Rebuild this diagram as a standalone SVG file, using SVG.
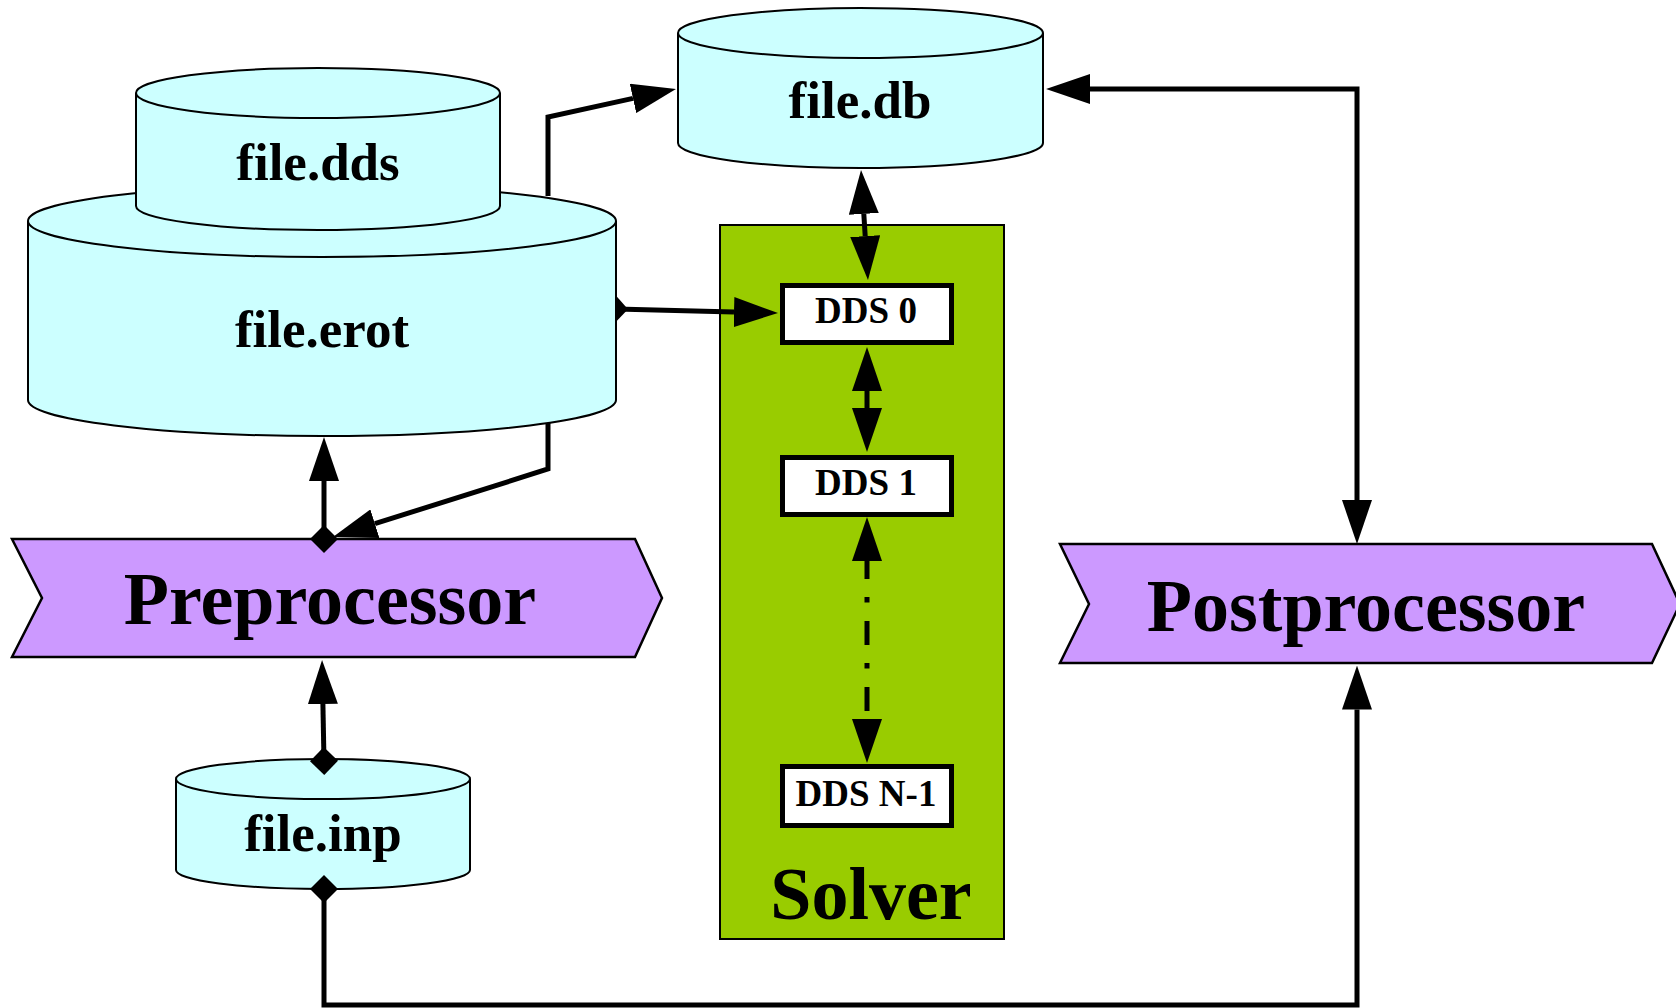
<svg xmlns="http://www.w3.org/2000/svg" width="1676" height="1008" viewBox="0 0 1676 1008">
<style>
.cyl{fill:#ccffff;stroke:#000;stroke-width:2}
.arrowshape{fill:#cc99ff;stroke:#000;stroke-width:2.5}
.lbl{font-family:"Liberation Serif","Times New Roman",serif;font-weight:bold;text-anchor:middle;fill:#000}
.f53{font-size:53px}
.f74{font-size:74px}
.f37{font-size:37px}
.dds{fill:#fff;stroke:#000;stroke-width:5}
.conn{fill:none;stroke:#000;stroke-width:5}
</style>
<defs>
<marker id="arr" markerUnits="userSpaceOnUse" markerWidth="44" markerHeight="30" refX="0" refY="15" orient="auto-start-reverse"><path d="M0,0 L44,15 L0,30 z" fill="#000"/></marker>
<marker id="dia" markerUnits="userSpaceOnUse" markerWidth="28" markerHeight="28" refX="14" refY="14" orient="auto"><path d="M0,14 L14,0 L28,14 L14,28 z" fill="#000"/></marker>
<marker id="half" markerUnits="userSpaceOnUse" markerWidth="14" markerHeight="28" refX="0" refY="14" orient="auto"><path d="M0,1 L12,14 L0,27 z" fill="#000"/></marker>
</defs>

<g id="solver">
<rect x="720" y="225" width="284" height="714" fill="#99cc00" stroke="#000" stroke-width="2"/>
<text class="lbl f74" x="871" y="919">Solver</text>
</g>

<g id="file-erot">
<path class="cyl" d="M28,221 A294,36 0 0 1 616,221 L616,400 A294,36 0 0 1 28,400 Z"/>
<path class="cyl" fill="none" d="M28,221 A294,36 0 0 0 616,221"/>
<text class="lbl f53" x="322" y="347">file.erot</text>
</g>

<g id="file-dds">
<path class="cyl" d="M136,93 A182,25 0 0 1 500,93 L500,206 A182,24 0 0 1 136,206 Z"/>
<path class="cyl" fill="none" d="M136,93 A182,25 0 0 0 500,93"/>
<text class="lbl f53" x="318" y="180">file.dds</text>
</g>

<g id="file-db">
<path class="cyl" d="M678,33 A182.5,25 0 0 1 1043,33 L1043,143 A182.5,25 0 0 1 678,143 Z"/>
<path class="cyl" fill="none" d="M678,33 A182.5,25 0 0 0 1043,33"/>
<text class="lbl f53" x="860" y="118">file.db</text>
</g>

<g id="file-inp">
<path class="cyl" d="M176,779 A147,20 0 0 1 470,779 L470,870 A147,19 0 0 1 176,870 Z"/>
<path class="cyl" fill="none" d="M176,779 A147,20 0 0 0 470,779"/>
<text class="lbl f53" x="323" y="851">file.inp</text>
</g>

<g id="preprocessor">
<polygon class="arrowshape" points="12,539 635,539 662,598 635,657 12,657 42,598"/>
<text class="lbl f74" x="330" y="624">Preprocessor</text>
</g>

<g id="postprocessor">
<polygon class="arrowshape" points="1060,544 1652,544 1680,604 1652,663 1060,663 1089,604"/>
<text class="lbl f74" x="1366" y="631">Postprocessor</text>
</g>

<g id="dds0">
<rect class="dds" x="782.5" y="285.5" width="169" height="57"/>
<text class="lbl f37" x="866" y="323">DDS 0</text>
</g>
<g id="dds1">
<rect class="dds" x="782.5" y="457.5" width="169" height="57"/>
<text class="lbl f37" x="866" y="495">DDS 1</text>
</g>
<g id="ddsn1">
<rect class="dds" x="782.5" y="766.5" width="169" height="59"/>
<text class="lbl f37" x="866" y="806">DDS N-1</text>
</g>

<g id="connectors">
<path class="conn" d="M548,196 L548,117 L633,98.4" marker-end="url(#arr)"/>
<path class="conn" d="M548,423 L548,469 L374.9,523.7" marker-end="url(#arr)"/>
<path class="conn" d="M324,539 L324,481" marker-start="url(#dia)" marker-end="url(#arr)"/>
<path class="conn" d="M324,761 L322.9,704" marker-start="url(#dia)" marker-end="url(#arr)"/>
<path class="conn" d="M324,889 L324,1005 L1357,1005 L1357,709.6" marker-start="url(#dia)" marker-end="url(#arr)"/>
<path class="conn" d="M1090,89 L1357,89 L1357,500" marker-start="url(#arr)" marker-end="url(#arr)"/>
<path class="conn" d="M863.8,213.9 L865.2,236.1" marker-start="url(#arr)" marker-end="url(#arr)"/>
<path class="conn" d="M616,309 L734,312" marker-start="url(#half)" marker-end="url(#arr)"/>
<path class="conn" d="M867,391 L867,408" marker-start="url(#arr)" marker-end="url(#arr)"/>
<path class="conn" d="M867,561 L867,719" stroke-width="5.5" stroke-dasharray="24 18 5.5 18.5" stroke-dashoffset="6" marker-start="url(#arr)" marker-end="url(#arr)"/>
</g>
</svg>
